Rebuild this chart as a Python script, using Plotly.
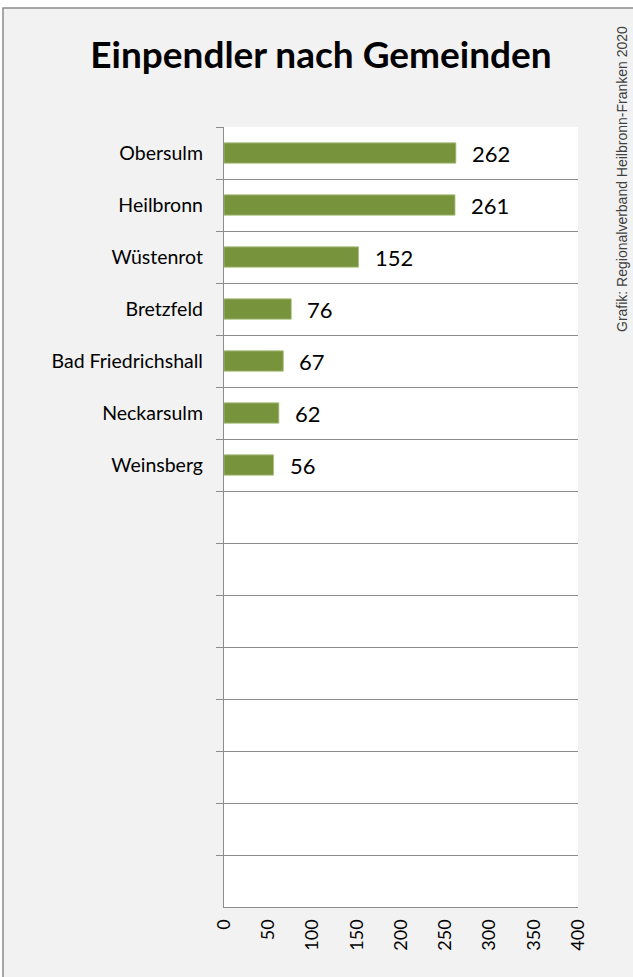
import plotly.graph_objects as go

categories = ["Obersulm", "Heilbronn", "Wüstenrot", "Bretzfeld",
              "Bad Friedrichshall", "Neckarsulm", "Weinsberg"]
values = [262, 261, 152, 76, 67, 62, 56]
empty_slots = [" " * i for i in range(1, 9)]
x_ticks = [0, 50, 100, 150, 200, 250, 300, 350, 400]

title_text = "Einpendler nach Gemeinden"
source_text = "Grafik: Regionalverband Heilbronn-Franken 2020"

W, H = 633, 977
L, R, T, B = 224, 55, 127, 70
pw, ph = W - L - R, H - T - B

def px_x(p):
    return (p - L) / pw

def px_y(p):
    return (H - B - p) / ph

grid = "#8c8c8c"
bar_color = "#77933c"
font_main = "Lato, 'Open Sans', sans-serif"

fig = go.Figure()
fig.add_trace(go.Bar(
    x=values, y=categories, orientation="h",
    marker=dict(color=bar_color, line=dict(color="#a9c07e", width=0.8)),
    hoverinfo="skip",
))

for c, v in zip(categories, values):
    fig.add_annotation(x=v, y=c, xref="x", yref="y", text=str(v),
                       showarrow=False, xanchor="left", yanchor="middle",
                       xshift=14, font=dict(family=font_main, size=22, color="#000000"))

fig.add_annotation(xref="paper", yref="paper", x=px_x(622), y=px_y(179),
                   text=source_text, textangle=-90, showarrow=False,
                   xanchor="center", yanchor="middle",
                   font=dict(family="'Liberation Sans Narrow', 'Liberation Sans', Arial, sans-serif",
                             size=14, color="#404040"))

# outer grey frame
fig.add_shape(type="rect", xref="paper", yref="paper", layer="below",
              x0=px_x(3), x1=px_x(660), y0=px_y(1000), y1=px_y(8),
              line=dict(color="#8c8c8c", width=1.5), fillcolor="#f2f2f2")
# white plot area
fig.add_shape(type="rect", xref="paper", yref="paper", layer="below",
              x0=0, x1=1, y0=0, y1=1,
              line=dict(width=0), fillcolor="#ffffff")

fig.update_layout(
    width=W, height=H,
    margin=dict(l=L, r=R, t=T, b=B, pad=0),
    paper_bgcolor="#ffffff", plot_bgcolor="#ffffff",
    showlegend=False, bargap=0.61,
    title=dict(text="<b>" + title_text + "</b>", x=321 / W, xanchor="center",
               y=1 - 55 / H, yanchor="middle",
               font=dict(family=font_main, size=37, color="#000000")),
    xaxis=dict(range=[0, 400], tickvals=x_ticks, ticktext=[str(t) for t in x_ticks],
               tickangle=-90, showgrid=False, zeroline=False,
               showline=True, linecolor=grid, linewidth=1.3, ticks="",
               tickfont=dict(family=font_main, size=18, color="#000000"),
               ticklabelstandoff=4),
    yaxis=dict(type="category", categoryorder="array",
               categoryarray=categories + empty_slots,
               range=[14.5, -0.5], tickson="boundaries",
               ticks="outside", ticklen=7, tickcolor=grid, tickwidth=1.3,
               showgrid=True, gridcolor=grid, gridwidth=1.3,
               showline=True, linecolor=grid, linewidth=1.3,
               tickfont=dict(family=font_main, size=19.5, color="#000000"),
               ticklabelstandoff=16),
)

fig.write_html("out.html",
               config={"displayModeBar": False},
               post_script="document.body.style.margin='0px';document.body.style.padding='0px';")
